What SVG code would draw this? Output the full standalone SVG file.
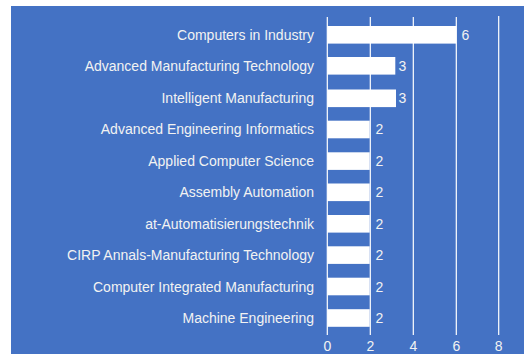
<svg xmlns="http://www.w3.org/2000/svg" width="524" height="354" viewBox="0 0 524 354">
<style>
text{font-family:"Liberation Sans",Arial,sans-serif;font-size:14px;fill:#f2f2f2}
.lab{text-anchor:end}
.ax{text-anchor:middle}
.bar{fill:#ffffff}
.grid line{stroke:#ffffff;stroke-width:1.2}
</style>
<rect x="0" y="0" width="524" height="354" fill="#ffffff"/>
<rect x="11" y="6" width="513" height="348" fill="#4472c4"/>
<g id="grid" class="grid">
<line x1="327.3" y1="17" x2="327.3" y2="335"/>
<line x1="370.3" y1="17" x2="370.3" y2="335"/>
<line x1="413.3" y1="17" x2="413.3" y2="335"/>
<line x1="456.3" y1="17" x2="456.3" y2="335"/>
<line x1="498.7" y1="16" x2="498.7" y2="335"/>
</g>
<g id="axis">
<text class="ax" x="327.3" y="350.5">0</text>
<text class="ax" x="370.3" y="350.5">2</text>
<text class="ax" x="413.3" y="350.5">4</text>
<text class="ax" x="456.3" y="350.5">6</text>
<text class="ax" x="498.7" y="350.5">8</text>
</g>
<g id="row1"><rect class="bar" x="327.3" y="26" width="129" height="17.6"/><text class="lab" x="314" y="39.8">Computers in Industry</text><text x="461.5" y="39.8">6</text></g>
<g id="row2"><rect class="bar" x="327.3" y="57" width="68" height="17.6"/><text class="lab" x="314" y="71.3">Advanced Manufacturing Technology</text><text x="398.5" y="71.3">3</text></g>
<g id="row3"><rect class="bar" x="327.3" y="89.5" width="68.7" height="17.6"/><text class="lab" x="314" y="102.8">Intelligent Manufacturing</text><text x="398.5" y="102.8">3</text></g>
<g id="row4"><rect class="bar" x="327.3" y="120.7" width="42.4" height="17.6"/><text class="lab" x="314" y="134.3">Advanced Engineering Informatics</text><text x="375.5" y="134.3">2</text></g>
<g id="row5"><rect class="bar" x="327.3" y="152.3" width="42.4" height="17.6"/><text class="lab" x="314" y="165.8">Applied Computer Science</text><text x="375.5" y="165.8">2</text></g>
<g id="row6"><rect class="bar" x="327.3" y="183.5" width="42.4" height="17.6"/><text class="lab" x="314" y="197.3">Assembly Automation</text><text x="375.5" y="197.3">2</text></g>
<g id="row7"><rect class="bar" x="327.3" y="215" width="42.4" height="17.6"/><text class="lab" x="314" y="228.8">at-Automatisierungstechnik</text><text x="375.5" y="228.8">2</text></g>
<g id="row8"><rect class="bar" x="327.3" y="246.3" width="42.4" height="17.6"/><text class="lab" x="314" y="260.3">CIRP Annals-Manufacturing Technology</text><text x="375.5" y="260.3">2</text></g>
<g id="row9"><rect class="bar" x="327.3" y="277.7" width="42.4" height="17.6"/><text class="lab" x="314" y="291.8">Computer Integrated Manufacturing</text><text x="375.5" y="291.8">2</text></g>
<g id="row10"><rect class="bar" x="327.3" y="309.2" width="42.4" height="17.6"/><text class="lab" x="314" y="323.3">Machine Engineering</text><text x="375.5" y="323.3">2</text></g>
</svg>
